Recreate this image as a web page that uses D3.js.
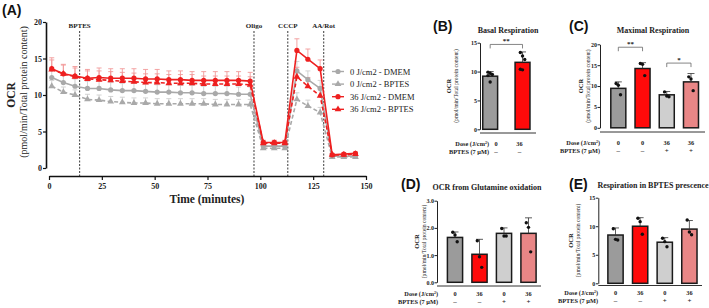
<!DOCTYPE html>
<html>
<head>
<meta charset="utf-8">
<script src="https://cdn.jsdelivr.net/npm/d3@7"></script>
<style>
body { margin: 0; background: #fff; }
svg text { font-family: "Liberation Serif", "Times New Roman", serif; fill: #222; }
svg text.plab { font-family: "Liberation Sans", Arial, sans-serif; font-weight: bold; font-size: 14px; fill: #111; }
</style>
</head>
<body>
<svg id="fig" width="709" height="308"></svg>
<script>
// ---------- PANEL A DATA (Seahorse time course) ----------
const times = [1.3, 6.8, 12.3, 18.2, 23.7, 29.2, 34.7, 40.2, 45.7, 51.2, 56.7, 62.2, 67.7, 73.2, 78.7, 84.2, 89.7, 95.2,
               101.4, 106.6, 111.6, 117.3, 122.5, 128.3, 134, 139.5, 145];
const dmem0 =  [12.4, 11.7, 11.2, 10.9, 10.9, 10.7, 10.6, 10.6, 10.5, 10.4, 10.4, 10.3, 10.3, 10.2, 10.2, 10.2, 10.1, 10.1, 3.0, 3.0, 3.0, 13.3, 12.1, 10.9, 1.6, 1.6, 1.6];
const dmem0Err = [1.1, 1.0, 1.0, 1.0, 1.0, 1.0, 1.0, 1.0, 1.0, 1.0, 1.0, 1.0, 1.0, 1.0, 1.0, 1.0, 1.0, 1.0, 0.3, 0.3, 0.3, 1.3, 1.2, 1.1, 0.2, 0.2, 0.2];
const bptes0 = [11.2, 10.4, 10.0, 9.4, 9.3, 9.1, 9.0, 8.9, 8.9, 8.8, 8.8, 8.8, 8.8, 8.8, 8.7, 8.7, 8.7, 8.7, 2.7, 2.7, 2.7, 9.4, 8.5, 7.6, 1.5, 1.5, 1.5];
const bptes0Err = [0.8, 0.7, 0.7, 0.7, 0.7, 0.7, 0.7, 0.7, 0.7, 0.7, 0.7, 0.7, 0.7, 0.7, 0.7, 0.7, 0.7, 0.7, 0.2, 0.2, 0.2, 0.9, 0.8, 0.7, 0.1, 0.1, 0.1];
const dmem36 = [13.6, 12.9, 12.6, 12.3, 12.4, 12.3, 12.3, 12.3, 12.2, 12.2, 12.1, 12.1, 12.0, 12.0, 12.0, 12.0, 12.0, 11.9, 3.5, 3.5, 3.5, 16.1, 14.9, 13.6, 1.8, 1.9, 2.0];
const dmem36Err = [1.5, 1.3, 1.3, 1.2, 1.3, 1.3, 1.3, 1.3, 1.3, 1.3, 1.2, 1.2, 1.2, 1.2, 1.2, 1.2, 1.2, 1.2, 0.3, 0.3, 0.3, 1.6, 1.4, 1.2, 0.2, 0.2, 0.2];
const bptes36 = [13.5, 12.9, 12.5, 12.2, 12.1, 12.0, 11.9, 11.8, 11.7, 11.7, 11.6, 11.6, 11.6, 11.5, 11.5, 11.5, 11.5, 11.4, 3.4, 3.4, 3.4, 12.5, 11.2, 9.9, 1.8, 1.8, 1.9];
const bptes36Err = [1.3, 1.2, 1.2, 1.1, 1.2, 1.2, 1.2, 1.2, 1.2, 1.2, 1.2, 1.2, 1.2, 1.1, 1.1, 1.1, 1.1, 1.1, 0.3, 0.3, 0.3, 1.3, 1.2, 1.1, 0.2, 0.2, 0.2];
const injections = ['BPTES', 'Oligo', 'CCCP', 'AA/Rot'];
const injTimes = [14.5, 97, 113, 130];
const legendNames = ['0 J/cm2 - DMEM', '0 J/cm2 - BPTES', '36 J/cm2 - DMEM', '36 J/cm2 - BPTES'];

// ---------- BAR PANELS DATA ----------
const doseB = ['0', '36'];
const bptesB = ['-', '-'];
const basalMean = [9.2, 11.6];
const basalErr = [0.8, 1.8];
const basalDots = [[9.9, 9.7, 9.5, 9.3, 8.2], [13.3, 12.7, 12.1, 10.4, 10.3]];

const doseC = ['0', '0', '36', '36'];
const bptesC = ['-', '-', '+', '+'];
const maximalMean = [9.45, 14.2, 7.9, 11.0];
const maximalErr = [1.55, 1.4, 0.8, 2.0];
const maximalDots = [[10.6, 10.2, 7.9], [15.4, 15.2, 12.5], [8.6, 7.6, 7.45], [12.2, 11.7, 8.9]];

const doseDE = ['0', '36', '0', '36'];
const bptesDE = ['-', '-', '+', '+'];
const glnMean = [1.65, 1.03, 1.8, 1.8];
const glnErr = [0.2, 0.55, 0.2, 0.57];
const glnDots = [[1.84, 1.74, 1.49], [1.53, 0.94, 0.55], [1.98, 1.7, 1.7], [2.19, 2.02, 1.12]];

const bptesRespMean = [8.46, 10.0, 7.2, 9.5];
const bptesRespErr = [1.24, 1.5, 0.8, 1.5];
const bptesRespDots = [[9.56, 7.7, 7.58], [11.4, 10.8, 8.6], [7.9, 7.3, 6.4], [11.1, 9.0, 8.5]];

const barColors = ['#9b9b9b', '#ff0a0a', '#cfcfcf', '#e98686'];

const svg = d3.select('#fig');

//--------PANEL A--------
function drawTimeCourse() {
    const x = d3.scaleLinear().domain([0, 150]).range([49, 366]);
    const y = d3.scaleLinear().domain([0, 20]).range([168, 22]);
    const g = svg.append('g');

    g.append('text').attr('class', 'plab').attr('x', 2).attr('y', 15).text('(A)');

    // axes (offset, GraphPad style)
    const yAx = g.append('g').attr('transform', 'translate(46,0)')
        .call(d3.axisLeft(y).tickValues([0, 5, 10, 15, 20]).tickSize(3).tickSizeOuter(0));
    const xAx = g.append('g').attr('transform', 'translate(0,176)')
        .call(d3.axisBottom(x).tickValues([0, 25, 50, 75, 100, 125, 150]).tickSize(4).tickSizeOuter(0));
    [yAx, xAx].forEach(a => {
        a.attr('font-family', null);
        a.select('.domain').attr('stroke', '#111').attr('stroke-width', 1.6);
        a.selectAll('.tick line').attr('stroke', '#111').attr('stroke-width', 1.2);
        a.selectAll('text').attr('font-size', 8).attr('font-weight', 'bold').attr('fill', '#222');
    });
    yAx.selectAll('text').attr('x', -4);
    xAx.selectAll('text').attr('y', 7);

    g.append('text').attr('transform', 'translate(15,95) rotate(-90)').attr('text-anchor', 'middle')
        .attr('font-size', 11.5).attr('font-weight', 'bold').text('OCR');
    g.append('text').attr('transform', 'translate(27,92) rotate(-90)').attr('text-anchor', 'middle')
        .attr('font-size', 10).text('(pmol/min/Total protein content)');
    g.append('text').attr('x', 207).attr('y', 203).attr('text-anchor', 'middle')
        .attr('font-size', 11.5).attr('font-weight', 'bold').text('Time (minutes)');

    // injection lines
    g.selectAll('line.inj').data(injTimes).join('line').attr('class', 'inj')
        .attr('x1', d => x(d)).attr('x2', d => x(d)).attr('y1', 31).attr('y2', 176)
        .attr('stroke', '#222').attr('stroke-width', 0.9).attr('stroke-dasharray', '2,1.5');
    g.selectAll('text.inj').data(injections).join('text').attr('class', 'inj')
        .attr('x', (d, i) => x(injTimes[i])).attr('y', 28).attr('text-anchor', 'middle')
        .attr('font-size', 7).attr('font-weight', 'bold').text(d => d);

    const series = [
        {vals: bptes0, err: bptes0Err, color: '#a9a9a9', errColor: '#cdcdcd', dash: '4,2.5', marker: 'tri'},
        {vals: dmem0, err: dmem0Err, color: '#a9a9a9', errColor: '#cdcdcd', dash: null, marker: 'circ'},
        {vals: bptes36, err: bptes36Err, color: '#ee2020', errColor: '#f29a9a', dash: '4,2.5', marker: 'tri'},
        {vals: dmem36, err: dmem36Err, color: '#ee2020', errColor: '#f29a9a', dash: null, marker: 'circ'}
    ];

    // error bars first
    series.forEach(s => {
        const eg = g.append('g').attr('stroke', s.errColor).attr('stroke-width', 0.9);
        s.vals.forEach((v, i) => {
            const cx = x(times[i]), y0 = y(v), y1 = y(v + s.err[i]);
            eg.append('line').attr('x1', cx).attr('x2', cx).attr('y1', y0).attr('y2', y1);
            eg.append('line').attr('x1', cx - 2.5).attr('x2', cx + 2.5).attr('y1', y1).attr('y2', y1);
        });
    });

    const line = d3.line().x((d, i) => x(times[i])).y(d => y(d));
    series.forEach(s => {
        g.append('path').datum(s.vals).attr('d', line).attr('fill', 'none')
            .attr('stroke', s.color).attr('stroke-width', 1.6)
            .attr('stroke-dasharray', s.dash);
        drawMarkers(g, s.vals.map((v, i) => [x(times[i]), y(v)]), s.marker, s.color);
    });

    // legend
    const legSeries = [series[1], series[0], series[3], series[2]];
    legendNames.forEach((name, i) => {
        const ly = 71.5 + i * 12.6;
        const s = legSeries[i];
        g.append('line').attr('x1', 332).attr('x2', 344).attr('y1', ly).attr('y2', ly)
            .attr('stroke', s.color).attr('stroke-width', 1.4);
        drawMarkers(g, [[338, ly]], s.marker, s.color);
        g.append('text').attr('x', 350).attr('y', ly + 3).attr('font-size', 8.5)
            .attr('fill', '#333').text(name);
    });
}

function drawMarkers(g, pts, type, color) {
    if (type === 'circ') {
        g.selectAll(null).data(pts).join('circle')
            .attr('cx', d => d[0]).attr('cy', d => d[1]).attr('r', 2.6).attr('fill', color);
    } else {
        const sym = d3.symbol().type(d3.symbolTriangle).size(20);
        g.selectAll(null).data(pts).join('path').attr('d', sym)
            .attr('transform', d => `translate(${d[0]},${d[1]})`).attr('fill', color);
    }
}

//--------BAR PANELS--------
function drawBarPanel(p) {
    const g = svg.append('g');
    const y = d3.scaleLinear().domain([0, p.yMax]).range([p.y0, p.yTop]);
    const n = p.mean.length;
    const x = d3.scaleBand().domain(d3.range(n)).range(p.band)
        .paddingInner(p.pad).paddingOuter(p.pad / 2);

    g.append('text').attr('class', 'plab').attr('x', p.labX).attr('y', p.labY).text(p.label);
    g.append('text').attr('x', p.titleX).attr('y', p.titleY).attr('text-anchor', 'middle')
        .attr('font-size', 8).attr('font-weight', 'bold').text(p.title);

    const yAx = g.append('g').attr('transform', `translate(${p.axisX},0)`)
        .call(d3.axisLeft(y).tickValues(p.ticks).tickSize(2.5).tickSizeOuter(0));
    yAx.attr('font-family', null);
    yAx.select('.domain').attr('stroke', '#222').attr('stroke-width', 1);
    yAx.selectAll('.tick line').attr('stroke', '#222');
    yAx.selectAll('text').attr('font-size', 6).attr('font-weight', 'bold').attr('x', -3).attr('fill', '#222');

    g.append('line').attr('x1', p.axisX).attr('x2', p.xEnd).attr('y1', p.xAxisY).attr('y2', p.xAxisY)
        .attr('stroke', '#333').attr('stroke-width', 1);

    g.append('text').attr('transform', `translate(${p.ocrX},${(p.y0 + p.yTop) / 2}) rotate(-90)`)
        .attr('text-anchor', 'middle').attr('font-size', 6.5).attr('font-weight', 'bold').text('OCR');
    g.append('text').attr('transform', `translate(${p.pmolX},${(p.y0 + p.yTop) / 2}) rotate(-90)`)
        .attr('text-anchor', 'middle').attr('font-size', 5.6).attr('fill', '#444')
        .text('(pmol/min/Total protein content)');

    // bars
    g.selectAll('rect.bar').data(p.mean).join('rect').attr('class', 'bar')
        .attr('x', (d, i) => x(i)).attr('width', x.bandwidth())
        .attr('y', d => y(d)).attr('height', d => y(0) - y(d))
        .attr('fill', (d, i) => p.colors[i]).attr('stroke', '#1a1a1a').attr('stroke-width', 1.5);

    // error bars (upper)
    p.mean.forEach((m, i) => {
        const cx = x(i) + x.bandwidth() / 2, y1 = y(m + p.err[i]);
        g.append('line').attr('x1', cx).attr('x2', cx).attr('y1', y(m)).attr('y2', y1)
            .attr('stroke', '#333').attr('stroke-width', 0.8);
        g.append('line').attr('x1', cx - 3.5).attr('x2', cx + 3.5).attr('y1', y1).attr('y2', y1)
            .attr('stroke', '#333').attr('stroke-width', 0.8);
    });

    // individual points
    p.dots.forEach((arr, i) => {
        const cx = x(i) + x.bandwidth() / 2;
        g.selectAll(null).data(arr).join('circle')
            .attr('cx', (d, j) => cx + ((j % 3) - 1) * 2.2).attr('cy', d => y(d))
            .attr('r', 1.7).attr('fill', '#111');
    });

    // significance
    (p.sig || []).forEach(s => {
        const xa = x(s.a) + x.bandwidth() / 2, xb = x(s.b) + x.bandwidth() / 2, yy = y(s.v);
        g.append('path').attr('d', `M${xa},${yy + 4}V${yy}H${xb}V${yy + 4}`)
            .attr('fill', 'none').attr('stroke', '#666').attr('stroke-width', 0.8);
        g.append('text').attr('x', (xa + xb) / 2).attr('y', yy - 1.5).attr('text-anchor', 'middle')
            .attr('font-size', 7).attr('font-weight', 'bold').text(s.t);
    });

    // dose / BPTES rows
    const lx = i => p.labelX ? p.labelX[i] : x(i) + x.bandwidth() / 2;
    const dose = g.append('text').attr('x', p.doseRight).attr('y', p.doseY).attr('text-anchor', 'end')
        .attr('font-size', 6.3).attr('font-weight', 'bold');
    dose.append('tspan').text('Dose (J/cm');
    dose.append('tspan').attr('font-size', 4).attr('dy', -2.5).text('2');
    dose.append('tspan').attr('dy', 2.5).text(')');
    g.append('text').attr('x', p.doseRight).attr('y', p.bptesY).attr('text-anchor', 'end')
        .attr('font-size', 6.3).attr('font-weight', 'bold').text('BPTES (7 \u00b5M)');
    g.selectAll('text.dose').data(p.dose).join('text').attr('class', 'dose')
        .attr('x', (d, i) => lx(i)).attr('y', p.doseY).attr('text-anchor', 'middle')
        .attr('font-size', 6.3).attr('font-weight', 'bold').text(d => d);
    g.selectAll('text.bp').data(p.bptes).join('text').attr('class', 'bp')
        .attr('x', (d, i) => lx(i)).attr('y', p.bptesY).attr('text-anchor', 'middle')
        .attr('font-size', 7).attr('font-weight', 'bold').text(d => d === '-' ? '\u2013' : d);
}

drawTimeCourse();

drawBarPanel({
    label: '(B)', labX: 433, labY: 31, title: 'Basal Respiration', titleX: 508, titleY: 33,
    mean: basalMean, err: basalErr, dots: basalDots, colors: [barColors[0], barColors[1]],
    yMax: 15, ticks: [0, 5, 10, 15], y0: 129.3, yTop: 42.7, axisX: 480,
    band: [474, 538.7], pad: 0.54, xAxisY: 133, xEnd: 536,
    ocrX: 451, pmolX: 458, doseRight: 489, doseY: 146, bptesY: 154,
    dose: doseB, bptes: bptesB, labelX: [496, 519.5],
    sig: [{a: 0, b: 1, v: 14.7, t: '**'}]
});

drawBarPanel({
    label: '(C)', labX: 569, labY: 31, title: 'Maximal Respiration', titleX: 653, titleY: 33,
    mean: maximalMean, err: maximalErr, dots: maximalDots, colors: barColors,
    yMax: 20, ticks: [0, 5, 10, 15, 20], y0: 127.8, yTop: 44.3, axisX: 600,
    band: [606.2, 703.1], pad: 0.38, xAxisY: 132, xEnd: 705,
    ocrX: 583, pmolX: 590, doseRight: 600, doseY: 145, bptesY: 152.5,
    dose: doseC, bptes: bptesC,
    sig: [{a: 0, b: 1, v: 19.3, t: '**'}, {a: 2, b: 3, v: 15.5, t: '*'}]
});

drawBarPanel({
    label: '(D)', labX: 401, labY: 189, title: 'OCR from Glutamine oxidation', titleX: 487, titleY: 190,
    mean: glnMean, err: glnErr, dots: glnDots, colors: barColors,
    yMax: 3, ticks: [0, 1, 2, 3], y0: 282.3, yTop: 200.7, axisX: 437,
    band: [442.75, 540.75], pad: 0.38, xAxisY: 286, xEnd: 541,
    ocrX: 419, pmolX: 426, doseRight: 438, doseY: 296, bptesY: 304,
    dose: doseDE, bptes: bptesDE
});

drawBarPanel({
    label: '(E)', labX: 569, labY: 189, title: 'Respiration in BPTES prescence', titleX: 653, titleY: 188,
    mean: bptesRespMean, err: bptesRespErr, dots: bptesRespDots, colors: barColors,
    yMax: 15, ticks: [0, 5, 10, 15], y0: 283.3, yTop: 197.7, axisX: 598.3,
    band: [603.2, 701.7], pad: 0.38, xAxisY: 285.5, xEnd: 702,
    ocrX: 573, pmolX: 580, doseRight: 598, doseY: 295, bptesY: 303,
    dose: doseDE, bptes: bptesDE
});
</script>
</body>
</html>
